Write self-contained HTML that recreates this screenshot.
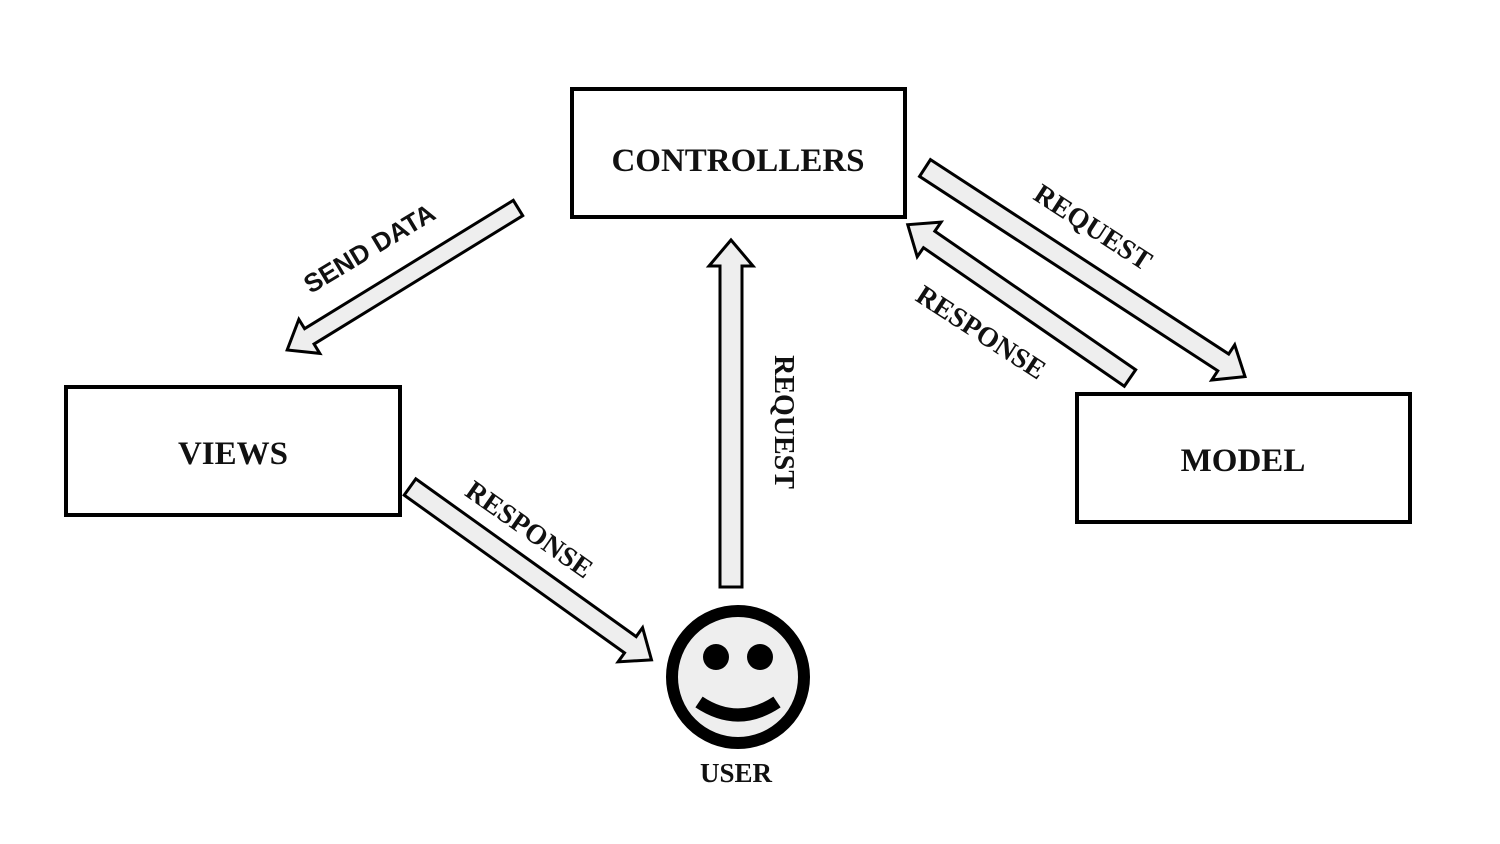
<!DOCTYPE html>
<html><head><style>html,body{margin:0;padding:0;background:#fff}svg{display:block}</style></head>
<body>
<svg width="1500" height="844" viewBox="0 0 1500 844" xmlns="http://www.w3.org/2000/svg">
<g fill="#fff" stroke="#000" stroke-width="4">
<rect x="572" y="89" width="333" height="128"/>
<rect x="66" y="387" width="334" height="128"/>
<rect x="1077" y="394" width="333" height="128"/>
</g>
<g font-family="Liberation Serif, serif" font-weight="bold" font-size="33" text-anchor="middle" fill="#111">
<text x="738" y="171">CONTROLLERS</text>
<text x="233" y="464">VIEWS</text>
<text x="1243" y="471">MODEL</text>
<text x="736" y="782" font-size="27">USER</text>
</g>
<g fill="#eee" stroke="#000" stroke-width="3" stroke-linejoin="miter">
<g transform="translate(518,208) rotate(148.4)"><polygon points="0,-9 245,-9 245,-20 271,0 245,20 245,9 0,9"/></g>
<g transform="translate(731,587) rotate(-90)"><polygon points="0,-11 321,-11 321,-22 347,0 321,22 321,11 0,11"/></g>
<g transform="translate(925,168) rotate(33.1)"><polygon points="0,-10 356,-10 356,-21 382,0 356,21 356,10 0,10"/></g>
<g transform="translate(1130,378) rotate(214.6)"><polygon points="0,-10 244,-10 244,-21 270,0 244,21 244,10 0,10"/></g>
<g transform="translate(410,487) rotate(35.6)"><polygon points="0,-10 271,-10 271,-21 297,0 271,21 271,10 0,10"/></g>
</g>
<g font-family="Liberation Serif, serif" font-weight="bold" font-size="28" fill="#111" text-anchor="middle">
<text transform="translate(775,422) rotate(90)">REQUEST</text>
<text transform="translate(1088,235) rotate(33)">REQUEST</text>
<text transform="translate(976,340) rotate(33)">RESPONSE</text>
<text transform="translate(524,537) rotate(35)">RESPONSE</text>
<text font-family="Liberation Sans, sans-serif" font-size="26" transform="translate(374,256) rotate(-31)">SEND DATA</text>
</g>
<circle cx="738" cy="677" r="66" fill="#eee" stroke="#000" stroke-width="12"/>
<circle cx="716" cy="657" r="13" fill="#000"/>
<circle cx="760" cy="657" r="13" fill="#000"/>
<path d="M699,702 Q738,728 777,702" fill="none" stroke="#000" stroke-width="13"/>
</svg>
</body></html>
